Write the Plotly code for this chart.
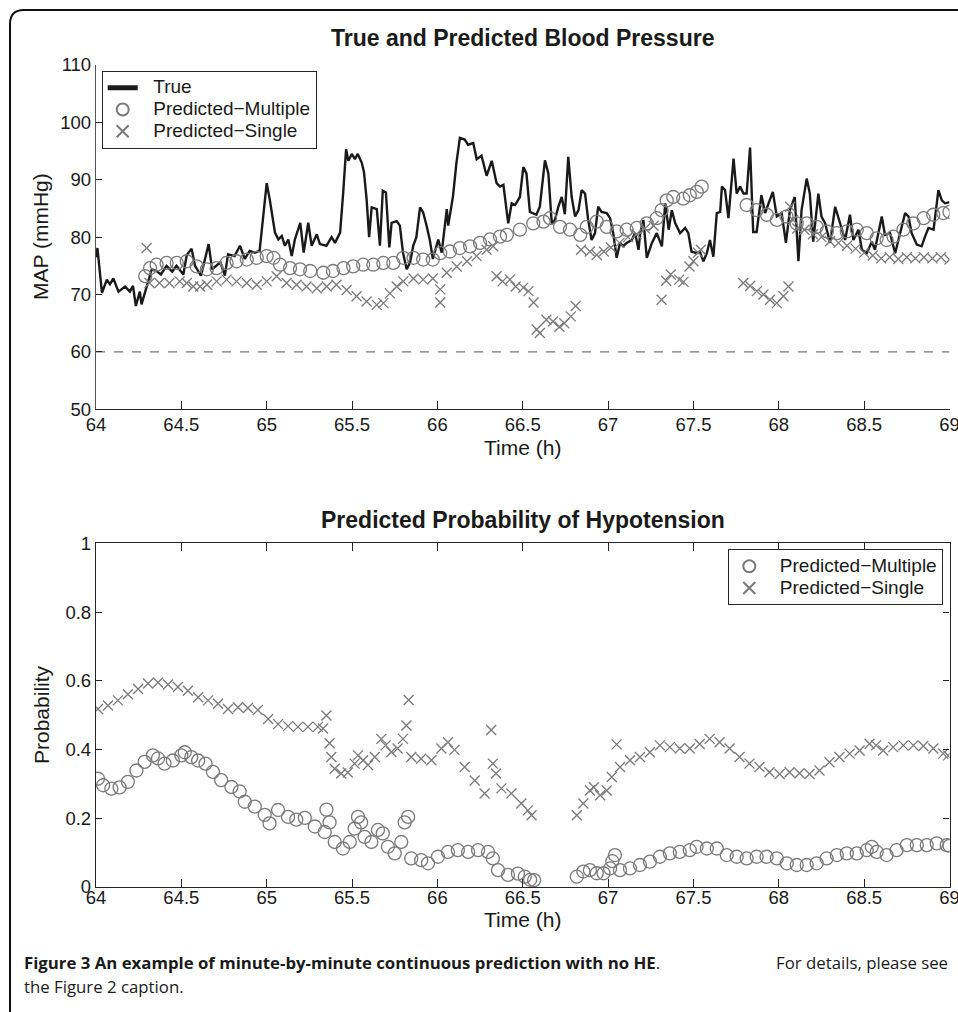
import plotly.graph_objects as go

W, H = 958, 1012

# ---------------- data (time in minutes after 64 h) ----------------
true_min = [0, 0.5, 2.1, 3.8, 4.9, 6.1, 7.9, 10.2, 11.9, 13,
            14, 15.4, 16, 17.8, 19.6, 21.3, 22.8, 24.8, 26.8, 28.3,
            30.7, 31.9, 33.6, 34.8, 36.9, 39.6, 40.8, 43.7, 45.3, 46.4,
            48.7, 50.6, 52.3, 54, 55.8, 57.5, 58.2, 60, 61.1, 62.9,
            64.1, 65.3, 66.4, 67.6, 68.8, 69.9, 71.8, 73, 74.6, 75.8,
            77.6, 78.7, 81, 82.8, 84, 85.8, 86.9, 87.9, 88.7, 89.9,
            91, 92, 93.4, 94.2, 95.1, 96, 96.9, 98.7, 99.8, 100.8,
            101.9, 103.1, 103.9, 105.7, 106.8, 107.9, 109.2, 110.4, 111.5, 112.6,
            113.9, 115, 116.2, 117.3, 118.4, 120.3, 121.5, 123.3, 123.8, 125.5,
            126.7, 127.9, 129.6, 130.8, 132.6, 133.8, 135.5, 137.3, 139.1, 140.8,
            142, 143.2, 144.9, 146.1, 147.3, 149, 150.2, 151.3, 152.5, 153.7,
            154.8, 156, 157.8, 159, 160.2, 161.3, 162.5, 163.7, 164.8, 166,
            167.2, 168.4, 169.6, 170.7, 171.9, 173, 174.2, 175.4, 176.5, 177.7,
            179.5, 180.7, 181.8, 183, 184.2, 185.3, 186.5, 188.3, 189.5, 190.7,
            191.3, 192.4, 193.6, 195.4, 197.1, 198.9, 200.1, 201.3, 202.4, 203.6,
            205.3, 207.1, 208.2, 209.3, 211.1, 212.2, 213.5, 214.7, 215.8, 217,
            218.2, 219.4, 220, 221.1, 222.3, 224.1, 225.2, 226.4, 227.6, 228.7,
            229.9, 231, 232.2, 233.9, 235.2, 236.4, 237.9, 239.3, 241, 242.5,
            243.9, 245.6, 246.9, 248, 249.8, 250.9, 252.1, 253.9, 255, 256.3,
            258, 259.8, 261.5, 263.3, 265, 266.2, 268, 269.2, 270.9, 272.7,
            273.8, 275, 276.2, 277.3, 279.1, 280.9, 282.7, 284.4, 285.6, 286.7,
            288.5, 290.2, 291.4, 292.6, 294.4, 296.1, 297.3, 298.4, 300]
true_map = [76.5, 78.1, 70.3, 72.6, 71.8, 72.8, 70.5, 71.4, 70.5, 71.5,
            68, 70.5, 68.3, 71.4, 74.4, 74.1, 73.5, 75, 74, 75,
            73.5, 76.9, 78, 75, 73.3, 78.8, 74.4, 75.6, 73.3, 77,
            76.7, 78.5, 76.2, 77.6, 77.3, 77.6, 80.8, 89.4, 86.5, 80.8,
            79.6, 80.2, 78.5, 79.6, 76.7, 79.6, 82.5, 77.3, 82.5, 78.5,
            80.5, 78.8, 78.5, 80, 79, 80.8, 87.8, 95.3, 93.3, 94.5,
            93.6, 94.5, 93, 91.3, 86.7, 80, 85.2, 84.9, 78.5, 88.1,
            87.8, 78.2, 82.5, 82.8, 82, 77.3, 74.4, 75.6, 78.5, 80,
            85.2, 84.3, 82, 79.6, 76.2, 79.6, 77.3, 84.9, 82, 87.2,
            93, 97.3, 97, 96.1, 96.4, 93.6, 94.2, 90.7, 93.3, 89.4,
            88.8, 89.1, 82.4, 85.9, 85.6, 87, 92.2, 91.1, 84.4, 84.2,
            83.9, 85.3, 93.4, 91.1, 82.4, 83, 85.3, 87, 84, 94,
            87, 83.6, 84.7, 88.2, 87.6, 83, 79.5, 80.7, 85.3, 84.4,
            84.2, 83.3, 80.7, 76.4, 79, 78.4, 79, 79.5, 80.7, 77.8,
            80.7, 83, 76.4, 79, 80.7, 78.4, 85.9, 81.3, 84.7, 82.4,
            80.7, 81.6, 80.7, 77.5, 77.2, 77.5, 75.8, 77.2, 79.5, 76.6,
            84.2, 84.4, 88.8, 88.2, 83.3, 93.7, 87.6, 88.8, 87.6, 87.6,
            95.6, 80.9, 80.9, 87.3, 84.2, 85.9, 87.9, 83.6, 84.2, 79,
            84.7, 87, 75.8, 84.7, 90.2, 87.6, 79.2, 87.6, 83.6, 82.4,
            79, 85.3, 82.4, 79.5, 83.9, 79.5, 81.3, 77.8, 77.2, 79.2,
            77.8, 80.7, 83.6, 80.4, 80.7, 77.2, 80.7, 84.2, 83.6, 80.7,
            78.7, 78.4, 80.1, 81.6, 81.3, 88.2, 86.4, 85.9, 86.1]

mult_min = [17.3, 19, 21.3, 24.8, 28.4, 31.9, 35.4, 39, 42.4, 45.9,
            49.4, 53, 56.5, 60, 62.4, 64.7, 68.2, 71.7, 75.3, 79.9,
            83.3, 87, 90.4, 93.9, 97.5, 101, 104.5, 108, 111.6, 115,
            118.4, 121, 124.4, 127.9, 131.5, 135, 138.5, 142, 144.4, 149,
            153.7, 157.3, 159.6, 163.1, 166.6, 170.2, 172.5, 176, 179.5, 183,
            186.5, 190.1, 193.6, 197.1, 198.8, 200.6, 202.9, 206.4, 208.7, 211.2,
            212.9, 228.7, 232.2, 235.8, 239.3, 242.7, 246.3, 249.8, 253.3, 256.9,
            260.4, 263.9, 267.4, 270.9, 274.4, 277.9, 280.3, 283.8, 287.3, 290.9,
            294.3, 297.8, 300]
mult_map = [73.2, 74.6, 75.2, 75.5, 75.5, 75.8, 74.9, 74.4, 74.6, 75.5,
            75.8, 76.1, 76.4, 76.7, 76.4, 75.2, 74.6, 74.4, 74.1, 73.8,
            74.1, 74.6, 74.9, 75.2, 75.2, 75.5, 75.5, 76.4, 76.4, 76.1,
            76.1, 77.2, 77.5, 78.1, 78.4, 79, 79.6, 80.1, 80.4, 81.3,
            82.4, 82.7, 83.3, 81.8, 81.3, 80.4, 81.8, 82.7, 81.8, 81,
            81.3, 81.6, 82.4, 83.3, 84.7, 86.4, 87, 86.7, 87.3, 87.9,
            88.8, 85.6, 84.7, 83.9, 83, 83.6, 82.4, 82.4, 81.8, 81,
            80.7, 81, 81.3, 80.7, 79.8, 79.5, 80.1, 81.3, 82.4, 83.3,
            83.9, 84.2, 84.4]

single_min = [17.8, 18.8, 22.3, 25.8, 29.4, 31.9, 34.2, 36.6, 39, 42.4,
              45.9, 49.4, 53, 56.5, 60, 63.5, 67, 70.5, 74, 77.6,
              81.1, 84.5, 88.1, 91.6, 95.1, 98.7, 101, 103.3, 105.7, 108,
              111.6, 115, 118.4, 121, 121, 123.3, 126.8, 130.4, 133.8, 137.3,
              139.6, 140.8, 142.9, 145.5, 147.5, 150.2, 152, 153.8, 154.9, 156,
              158.3, 160.6, 162.9, 164.6, 166.9, 168.6, 170.5, 173.6, 176, 178.5,
              181, 184, 187, 190, 193, 196, 198.8, 200.4, 202, 205,
              206.5, 208.6, 210, 211.6, 212.6, 227.5, 229.9, 232.3, 234.6, 236.9,
              239.3, 241.6, 243.4, 244, 245, 246.5, 249, 252, 255, 258,
              261, 264, 267, 270, 273, 276, 279, 282, 285, 288,
              291, 294, 297, 300]
single_map = [78.1, 72, 72, 72, 72.3, 72, 71.4, 71.4, 71.7, 72.3,
              72.6, 72.3, 72, 71.7, 72.3, 73.2, 72, 71.7, 71.4, 71.1,
              71.4, 71.7, 70.8, 69.7, 68.8, 68.2, 68.5, 70.2, 71.4, 72.3,
              72.8, 72.6, 72.8, 70.9, 68.6, 73.8, 74.9, 75.8, 76.7, 77.8,
              78.4, 73.2, 72.3, 72.6, 71.4, 71.2, 70.6, 68.6, 63.9, 63.3,
              65.6, 65.3, 64.4, 65, 66.2, 68, 77.8, 77.5, 76.9, 77.5,
              78.2, 79, 80, 80.5, 81.5, 82, 69.1, 72.4, 73.5, 72.6,
              72.2, 74.9, 75.8, 77.3, 77.8, 72, 71.5, 70.6, 70, 69.1,
              68.5, 69.7, 71.4, 85.3, 83, 81.5, 81.3, 80.5, 80, 79.3,
              79, 78.5, 78, 77.3, 76.8, 76.3, 76.5, 76.2, 76.5, 76.3,
              76.5, 76.3, 76.5, 76.1]

prob_mult_min = [0.7, 2.5, 5.4, 8.3, 11.2, 14.2, 17.1, 20, 21.8, 24.1,
                 27, 30, 31.2, 33.5, 35.9, 38.5, 41.1, 44, 47.6, 50.5,
                 52.3, 55.8, 59.3, 61, 64, 67.5, 70.4, 73.4, 76.9, 80.4,
                 81, 82.1, 83.9, 86.8, 89.2, 90.9, 92.1, 93.2, 94.4, 96.8,
                 99.1, 100.8, 102.6, 105, 107.3, 108.5, 109.7, 110.8, 114.3, 116.7,
                 120.2, 123.7, 127.2, 130.8, 134.3, 137.8, 139.5, 141.3, 144.8, 148.3,
                 150.7, 152.6, 154, 169, 171.3, 173.6, 176, 178.4, 180.7, 181.5,
                 182.4, 184.2, 187.7, 191.2, 194.7, 198.2, 201.7, 205.2, 208.7, 211.1,
                 214.7, 218.2, 221.7, 225.2, 228.7, 232.2, 235.7, 239.3, 242.8, 246.3,
                 249.8, 253.3, 256.8, 260.4, 263.9, 267.4, 270.9, 272.7, 274.4, 277.9,
                 281.4, 285, 288.5, 292, 295.5, 299, 300]
prob_mult = [0.315, 0.296, 0.286, 0.290, 0.306, 0.339, 0.364, 0.383, 0.374, 0.359,
             0.368, 0.383, 0.392, 0.378, 0.368, 0.359, 0.335, 0.311, 0.291, 0.278,
             0.248, 0.234, 0.210, 0.185, 0.224, 0.204, 0.196, 0.201, 0.176, 0.160,
             0.225, 0.188, 0.131, 0.112, 0.131, 0.170, 0.204, 0.188, 0.146, 0.131,
             0.166, 0.156, 0.117, 0.098, 0.131, 0.188, 0.204, 0.083, 0.078, 0.069,
             0.088, 0.102, 0.107, 0.102, 0.107, 0.102, 0.083, 0.049, 0.035, 0.039,
             0.030, 0.021, 0.020, 0.030, 0.045, 0.049, 0.040, 0.040, 0.054, 0.075,
             0.093, 0.049, 0.054, 0.064, 0.074, 0.088, 0.098, 0.102, 0.107, 0.117,
             0.112, 0.112, 0.093, 0.088, 0.083, 0.088, 0.088, 0.083, 0.069, 0.064,
             0.064, 0.069, 0.083, 0.093, 0.098, 0.098, 0.107, 0.117, 0.102, 0.093,
             0.107, 0.122, 0.122, 0.122, 0.127, 0.122, 0.120]

prob_single_min = [0.7, 4.2, 7.7, 11.2, 14.8, 18.3, 21.8, 25.3, 28.8, 32.3,
                   35.9, 39.4, 42.9, 46.4, 49.9, 53.4, 56.9, 60.5, 64, 67.5,
                   71, 74.5, 78, 79.8, 81, 82.1, 82.7, 83.9, 86.2, 88.5,
                   90.9, 92.1, 93.9, 95.6, 98, 100.3, 101.8, 103.8, 106, 107.9,
                   109.1, 109.9, 110.8, 114.3, 117.9, 121.4, 123.7, 126, 129.6, 133.1,
                   136.6, 138.9, 139.5, 140.6, 142.5, 146, 149.5, 151.8, 153.1, 169,
                   171.3, 173.6, 175, 177.2, 179.5, 181.3, 183, 184.2, 187.7, 191.2,
                   194.7, 198.2, 201.7, 205.2, 208.7, 212.2, 215.7, 219.2, 222.7, 226.2,
                   229.7, 233.2, 236.7, 240.3, 243.8, 247.3, 250.8, 254.3, 257.8, 261.3,
                   264.9, 268.4, 271.9, 274.2, 276.7, 280.2, 283.8, 287.3, 290.8, 294.3,
                   297.8, 299.5]
prob_single = [0.518, 0.528, 0.543, 0.561, 0.576, 0.592, 0.595, 0.589, 0.582, 0.571,
               0.552, 0.543, 0.533, 0.518, 0.523, 0.521, 0.515, 0.489, 0.474, 0.468,
               0.466, 0.466, 0.466, 0.461, 0.499, 0.418, 0.378, 0.344, 0.330, 0.333,
               0.359, 0.383, 0.369, 0.355, 0.378, 0.431, 0.412, 0.393, 0.403, 0.431,
               0.470, 0.544, 0.378, 0.373, 0.369, 0.403, 0.421, 0.399, 0.349, 0.310,
               0.272, 0.457, 0.359, 0.330, 0.287, 0.272, 0.243, 0.223, 0.209, 0.209,
               0.243, 0.281, 0.290, 0.267, 0.281, 0.320, 0.415, 0.349, 0.369, 0.378,
               0.392, 0.412, 0.407, 0.403, 0.403, 0.416, 0.431, 0.421, 0.403, 0.378,
               0.359, 0.349, 0.334, 0.329, 0.334, 0.331, 0.329, 0.339, 0.363, 0.378,
               0.388, 0.397, 0.417, 0.412, 0.397, 0.407, 0.412, 0.412, 0.410, 0.403,
               0.388, 0.383]

threshold = 60
x_ticks = [64, 64.5, 65, 65.5, 66, 66.5, 67, 67.5, 68, 68.5, 69]
x_ticklabels = ["64", "64.5", "65", "65.5", "66", "66.5", "67", "67.5", "68", "68.5", "69"]
y_ticks_top = [50, 60, 70, 80, 90, 100, 110]
y_ticks_bot = [0, 0.2, 0.4, 0.6, 0.8, 1]
y_ticklabels_bot = ["0", "0.2", "0.4", "0.6", "0.8", "1"]


def hours(mins):
    return [64 + m / 60.0 for m in mins]


def px(x):
    return x / W


def py(y):
    return 1 - y / H


def legend_label(s):
    # larger glyphs than the legend's own line spacing (MATLAB-style tight legend)
    return '<span style="font-size:19px">\u00a0\u00a0' + s + '</span>'


FONT = "Liberation Sans, Arial, Helvetica, sans-serif"
GREY = "#7a7a7a"
AX = "#262626"
TXT = "#1a1a1a"

circle_marker = dict(symbol="circle-open", size=13, color=GREY, line=dict(width=1.3, color=GREY))
cross_marker = dict(symbol="x-thin-open", size=10, color=GREY, line=dict(width=1.3, color=GREY))

fig = go.Figure()

# ---- top panel ----
fig.add_trace(go.Scatter(x=[x_ticks[0], x_ticks[-1]], y=[threshold, threshold], mode="lines",
                         line=dict(color="#555555", width=1, dash="dash"),
                         showlegend=False, hoverinfo="skip", xaxis="x", yaxis="y"))
fig.add_trace(go.Scatter(x=hours(true_min), y=true_map, mode="lines", name=legend_label("True"),
                         line=dict(color=TXT, width=2.4), xaxis="x", yaxis="y", legend="legend"))
fig.add_trace(go.Scatter(x=hours(mult_min), y=mult_map, mode="markers",
                         name=legend_label("Predicted\u2212Multiple"),
                         marker=circle_marker, xaxis="x", yaxis="y", legend="legend"))
fig.add_trace(go.Scatter(x=hours(single_min), y=single_map, mode="markers",
                         name=legend_label("Predicted\u2212Single"),
                         marker=cross_marker, xaxis="x", yaxis="y", legend="legend"))

# ---- bottom panel ----
fig.add_trace(go.Scatter(x=hours(prob_mult_min), y=prob_mult, mode="markers",
                         name=legend_label("Predicted\u2212Multiple"),
                         marker=circle_marker, xaxis="x2", yaxis="y2", legend="legend2"))
fig.add_trace(go.Scatter(x=hours(prob_single_min), y=prob_single, mode="markers",
                         name=legend_label("Predicted\u2212Single"),
                         marker=cross_marker, xaxis="x2", yaxis="y2", legend="legend2"))

tickfont = dict(family=FONT, size=18.5, color=TXT)
common_x = dict(range=[64, 69], tickvals=x_ticks, ticktext=x_ticklabels, ticks="inside", ticklen=8,
                tickwidth=1, tickcolor=AX, showline=True, linecolor=AX, linewidth=1.3,
                showgrid=False, zeroline=False, tickfont=tickfont, automargin=False, fixedrange=True,
                ticklabeloverflow="allow")
common_y = dict(ticks="inside", ticklen=6, tickwidth=1, tickcolor=AX, showline=True, linewidth=1.3,
                showgrid=False, zeroline=False, tickfont=tickfont, automargin=False, fixedrange=True,
                ticklabeloverflow="allow")

legend_common = dict(bgcolor="white", bordercolor=AX, borderwidth=1,
                     font=dict(family=FONT, size=14.5, color=TXT),
                     tracegroupgap=0, itemsizing="constant")

fig.update_layout(
    width=W, height=H, autosize=False,
    margin=dict(l=0, r=0, t=0, b=0),
    paper_bgcolor="white", plot_bgcolor="white",
    xaxis=dict(domain=[px(96), px(949.5)], anchor="y", mirror=False, ticklabelstandoff=-2, **common_x),
    yaxis=dict(domain=[py(409.3), py(65)], anchor="x", range=[50, 110], tickvals=y_ticks_top,
               linecolor="#555555", **common_y),
    xaxis2=dict(domain=[px(96), px(949.5)], anchor="y2", mirror="allticks", ticklabelstandoff=-6,
                **common_x),
    yaxis2=dict(domain=[py(887), py(543.3)], anchor="x2", range=[0, 1], tickvals=y_ticks_bot,
                ticktext=y_ticklabels_bot, linecolor=AX, mirror="allticks", **common_y),
    legend=dict(x=px(101.7), y=py(70.7), xanchor="left", yanchor="top", **legend_common),
    legend2=dict(x=px(943.3), y=py(549.3), xanchor="right", yanchor="top", **legend_common),
    showlegend=True,
)

ann = []
ann.append(dict(text="<b>True and Predicted Blood Pressure</b>", x=px(522.7), y=py(38), xref="paper",
                yref="paper", xanchor="center", yanchor="middle", showarrow=False,
                font=dict(family=FONT, size=23, color=TXT)))
ann.append(dict(text="<b>Predicted Probability of Hypotension</b>", x=px(522.7), y=py(520), xref="paper",
                yref="paper", xanchor="center", yanchor="middle", showarrow=False,
                font=dict(family=FONT, size=23, color=TXT)))
for yy in (447, 919):
    ann.append(dict(text="Time (h)", x=px(522.7), y=py(yy), xref="paper", yref="paper",
                    xanchor="center", yanchor="middle", showarrow=False,
                    font=dict(family=FONT, size=21, color=TXT)))
ann.append(dict(text="MAP (mmHg)", x=px(41), y=py(237), xref="paper", yref="paper", textangle=-90,
                xanchor="center", yanchor="middle", showarrow=False,
                font=dict(family=FONT, size=21, color=TXT)))
ann.append(dict(text="Probability", x=px(41), y=py(715), xref="paper", yref="paper", textangle=-90,
                xanchor="center", yanchor="middle", showarrow=False,
                font=dict(family=FONT, size=21, color=TXT)))
CAPF = "Open Sans, Noto Sans, sans-serif"
ann.append(dict(text="<b>Figure 3 An example of minute-by-minute continuous prediction with no HE</b>.",
                x=px(22), y=py(962), xref="paper", yref="paper", xanchor="left", yanchor="middle",
                showarrow=False, font=dict(family=CAPF, size=16.8, color=TXT)))
ann.append(dict(text="For details, please see",
                x=px(950), y=py(962), xref="paper", yref="paper", xanchor="right", yanchor="middle",
                showarrow=False, font=dict(family=CAPF, size=16.8, color=TXT)))
ann.append(dict(text="the Figure 2 caption.", x=px(22), y=py(986), xref="paper", yref="paper",
                xanchor="left", yanchor="middle", showarrow=False,
                font=dict(family=CAPF, size=16.8, color=TXT)))
fig.update_layout(annotations=ann)

# rounded frame around the figure panel
x0, y0, r = 10, 10, 14
path = "M {a},{b} L {c},{d} Q {c},{e} {f},{e} L {g},{e}".format(
    a=px(x0), b=py(H), c=px(x0), d=py(y0 + r), e=py(y0), f=px(x0 + r), g=px(W))
fig.add_shape(type="path", path=path, xref="paper", yref="paper",
              line=dict(color="#111111", width=2))

fig.write_html("out.html", config={"displayModeBar": False},
               post_script="document.body.style.margin='0px';document.body.style.overflow='hidden';")
